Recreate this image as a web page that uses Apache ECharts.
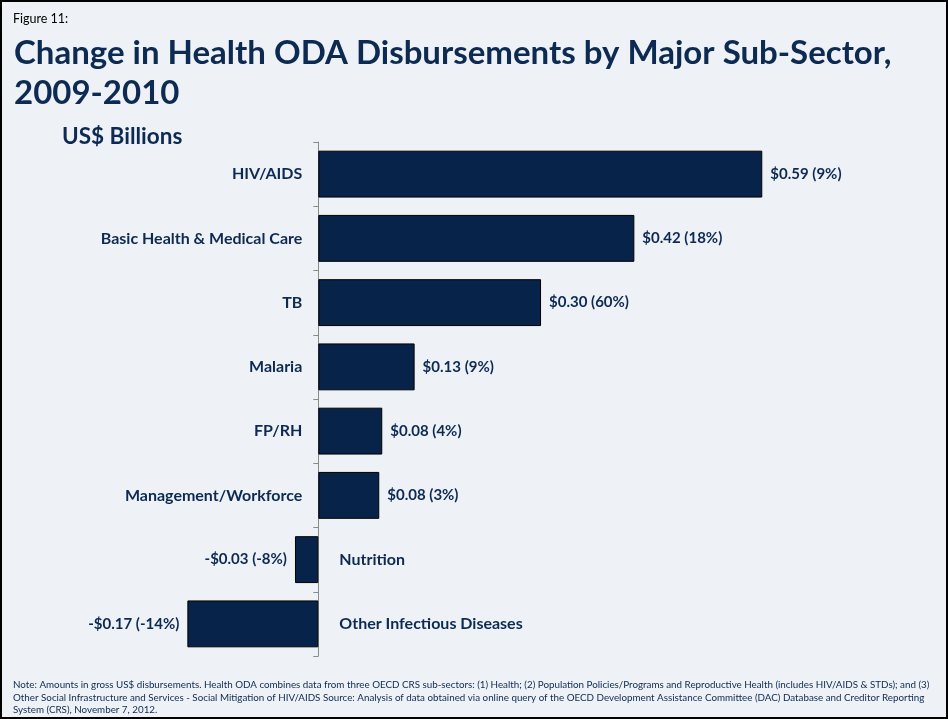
<!DOCTYPE html>
<html><head><meta charset="utf-8">
<script src="https://cdn.jsdelivr.net/npm/echarts@6/dist/echarts.min.js"></script>
<style>
html,body{margin:0;padding:0;background:#eef1f5;}
#wrap{position:relative;width:948px;height:719px;}
#c{position:absolute;left:0;top:0;width:948px;height:719px;}
#b{position:absolute;left:0;top:0;width:948px;height:719px;box-sizing:border-box;border:2px solid #000;pointer-events:none;}
</style></head>
<body><div id="wrap"><div id="c"></div><div id="b"></div></div>
<script>
const categories = ['HIV/AIDS','Basic Health & Medical Care','TB','Malaria','FP/RH','Management/Workforce','Nutrition','Other Infectious Diseases'];
const values = [0.59, 0.42, 0.30, 0.13, 0.08, 0.08, -0.03, -0.17];
const percents = ['9%','18%','60%','9%','4%','3%','-8%','-14%'];
const barPx = [0.59, 0.42, 0.296, 0.128, 0.085, 0.081, -0.031, -0.174];

const navy = '#0c2a52';
const font = 'Lato';
const chart = echarts.init(document.getElementById('c'));
function fmtVal(v, p){ return (v<0?'-$':'$') + Math.abs(v).toFixed(2) + ' (' + p + ')'; }
chart.setOption({
  backgroundColor: '#eef1f5',
  textStyle: {fontFamily: font},
  title: [
    {text: 'Figure 11:', left: 8, top: 7, textStyle: {fontSize: 12.5, fontWeight: 'normal', color: '#000', fontFamily: font}},
    {text: 'Change in Health ODA Disbursements by Major Sub-Sector,\n2009-2010', left: 9, top: 28, textStyle: {fontSize: 33, fontWeight: 'bold', color: navy, lineHeight: 40, fontFamily: font}},
    {text: 'US$ Billions', left: 57, top: 120, textStyle: {fontSize: 22.5, fontWeight: 'bold', color: navy, fontFamily: font}},
    {text: 'Note: Amounts in gross US$ disbursements. Health ODA combines data from three OECD CRS sub-sectors: (1) Health; (2) Population Policies/Programs and Reproductive Health (includes HIV/AIDS & STDs); and (3)\nOther Social Infrastructure and Services - Social Mitigation of HIV/AIDS Source: Analysis of data obtained via online query of the OECD Development Assistance Committee (DAC) Database and Creditor Reporting\nSystem (CRS), November 7, 2012.',
     left: 8, top: 674, textStyle: {fontSize: 9.8, fontWeight: 'normal', color: navy, lineHeight: 12.5, fontFamily: font}}
  ],
  grid: {left: 17.3, width: 903, top: 142, height: 514, containLabel: false},
  xAxis: {type: 'value', min: -0.4, max: 0.8, show: false},
  yAxis: {
    type: 'category', data: categories, inverse: true,
    axisLine: {show: true, onZero: true, lineStyle: {color: '#8a8a8a', width: 1}},
    axisTick: {show: true, length: 5, lineStyle: {color: '#8a8a8a'}},
    axisLabel: {show: false}
  },
  series: [
    {
      type: 'bar', barCategoryGap: '27%', barGap: '-100%',
      data: barPx.map((v,i)=>({
        value: v,
        label: {show: true, position: v>=0 ? 'right' : 'left', distance: 8,
                formatter: fmtVal(values[i], percents[i])}
      })),
      itemStyle: {color: '#08234a', borderColor: '#000', borderWidth: 1},
      label: {fontSize: 15, fontWeight: 'bold', color: navy, fontFamily: font},
      silent: true
    },
    {
      type: 'bar', barGap: '-100%', barCategoryGap: '27%',
      data: values.map((v,i)=>({
        value: 0,
        label: {show: true, position: v>=0 ? 'left' : 'right', distance: v>=0 ? 16 : 21,
                formatter: categories[i]}
      })),
      itemStyle: {color: 'transparent', borderWidth: 0},
      label: {fontSize: 16, fontWeight: 'bold', color: navy, fontFamily: font},
      silent: true
    }
  ]
});
</script></body></html>
